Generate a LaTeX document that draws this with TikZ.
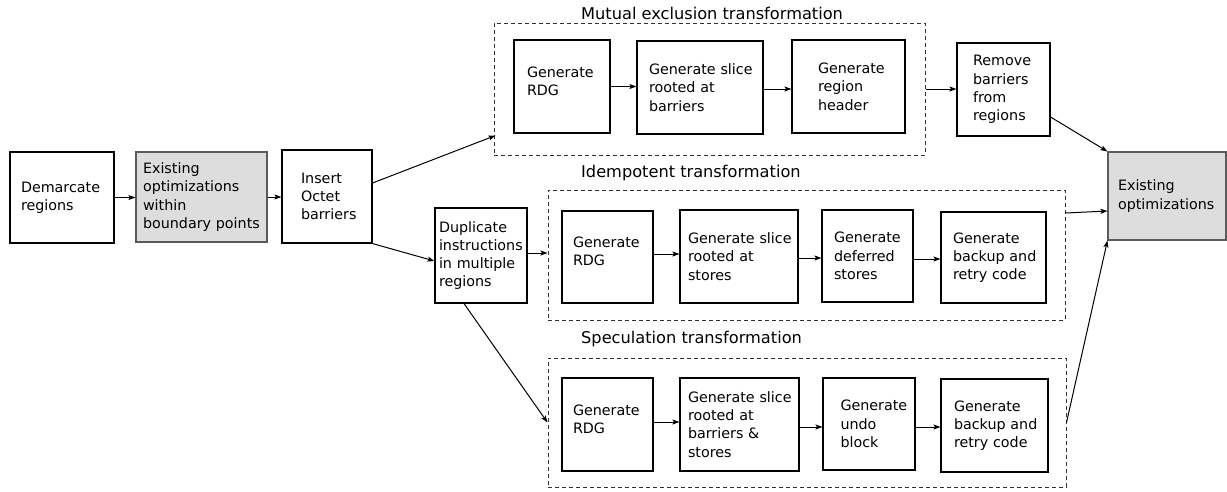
\documentclass[tikz,border=0pt]{standalone}
\usepackage{fontspec}
\setmainfont{DejaVu Sans}
\usetikzlibrary{arrows.meta}
\definecolor{boxgray}{RGB}{221,221,221}
\definecolor{edgegray}{RGB}{90,90,90}
\definecolor{framegray}{RGB}{50,50,50}
\begin{document}
\begin{tikzpicture}[x=1pt,y=-1pt,
  every node/.style={font=\fontsize{14.3pt}{18.3pt}\selectfont},
  % a process box: width, height, text width (text starts at a fixed left inset)
  stage/.style n args={3}{draw=black, line width=1.1pt, rectangle, align=left,
    minimum width=#1pt, minimum height=#2pt, text width=#3pt,
    inner xsep=0pt, inner ysep=0pt, anchor=center,
    execute at begin node={\hyphenpenalty=10000\exhyphenpenalty=10000\hbadness=10000\hfuzz=100pt}},
  shaded/.style={fill=boxgray, draw=edgegray},
  frame/.style={draw=framegray, line width=1pt, dash pattern=on 4pt off 3pt,
    rectangle, inner sep=0pt, anchor=center},
  ttl/.style={font=\fontsize{16.2pt}{19.5pt}\selectfont, inner sep=0pt, anchor=base west},
  conn/.style={draw=black, line width=1pt, -{Stealth[length=7pt,width=5pt,inset=1.5pt]}}
]
\useasboundingbox (0,0) rectangle (1227,491);
\fill[white] (0,0) rectangle (1227,491);

% front-end passes
\node[stage={104}{91}{82}] (dem) at (62,197.5) {Demarcate\\regions};
\node[stage={131}{90}{117}, shaded] (exo) at (201.5,197) {Existing\\optimizations\\within\\boundary~points};
\node[stage={90}{93}{52}] (ins) at (327,196.5) {Insert\\Octet\\barriers};
\node[stage={92}{95}{84}] (dup) at (481,255.5) {Duplicate\\instructions\\in~multiple\\regions};

% mutual exclusion transformation
\node[frame, minimum width=431pt, minimum height=132pt] (mex) at (709.5,89) {};
\node[ttl] (mext) at (581,19.5) {Mutual exclusion transformation};
\node[stage={96}{93}{70}] (mrdg) at (562,86.5) {Generate\\RDG\\[-7pt]\mbox{}};
\node[stage={126}{93}{102}] (mslc) at (700,87.5) {Generate~slice\\rooted~at\\barriers};
\node[stage={113}{93}{61}] (mhdr) at (848.5,86.5) {Generate\\region\\header};
\node[stage={93}{93}{61}] (rem) at (1003.5,89.5) {Remove\\barriers\\from\\regions};

% idempotent transformation
\node[frame, minimum width=517pt, minimum height=130pt] (idem) at (806.5,255) {};
\node[ttl] (idemt) at (581,177) {Idempotent transformation};
\node[stage={91}{92}{69}] (irdg) at (607.5,257) {Generate\\RDG\\[-7pt]\mbox{}};
\node[stage={118}{93}{102}] (islc) at (739,256.5) {Generate~slice\\rooted~at\\stores};
\node[stage={91}{92}{67}] (idef) at (867.5,256) {Generate\\deferred\\stores};
\node[stage={105}{91}{81}] (ibak) at (993.5,257.5) {Generate\\backup~and\\retry~code};

% speculation transformation
\node[frame, minimum width=518pt, minimum height=129pt] (spec) at (807,422.5) {};
\node[ttl] (spect) at (581,343) {Speculation transformation};
\node[stage={91}{93}{69}] (srdg) at (607.5,424.5) {Generate\\RDG\\[-7pt]\mbox{}};
\node[stage={119}{93}{103}] (sslc) at (739.5,424.5) {Generate~slice\\rooted~at\\barriers~\&\\stores};
\node[stage={92}{92}{57}] (sund) at (869,424) {Generate\\undo\\block};
\node[stage={107}{93}{81}] (sbak) at (994.5,425.5) {Generate\\backup~and\\retry~code};

% final pass
\node[stage={118}{88}{98}, shaded] (eopt) at (1167,196) {Existing\\optimizations};

% connectors
\draw[conn] (dem.east) -- (dem.east -| exo.west);
\draw[conn] (exo.east) -- (exo.east -| ins.west);
\draw[conn] ([yshift=13.5pt]ins.east) -- ([xshift=2pt,yshift=20pt]mex.south west);
\draw[conn] (ins.south east) -- ([yshift=-5.5pt]dup.west);
\draw[conn] ([yshift=2.5pt]dup.east) -- ([yshift=2.5pt]dup.east -| idem.west);
\draw[conn] ([xshift=-17pt]dup.south) -- (spec.west);

\draw[conn] (mrdg.east) -- (mrdg.east -| mslc.west);
\draw[conn] ([yshift=-1.5pt]mslc.east) -- ([yshift=-1.5pt]mslc.east -| mhdr.west);
\draw[conn] (mex.east) -- (mex.east -| rem.west);

\draw[conn] ([yshift=3pt]irdg.east) -- ([yshift=3pt]irdg.east -| islc.west);
\draw[conn] ([yshift=-1.5pt]islc.east) -- ([yshift=-1.5pt]islc.east -| idef.west);
\draw[conn] ([yshift=-3pt]idef.east) -- ([yshift=-3pt]idef.east -| ibak.west);

\draw[conn] ([yshift=2.5pt]srdg.east) -- ([yshift=2.5pt]srdg.east -| sslc.west);
\draw[conn] ([yshift=-2.5pt]sslc.east) -- ([yshift=-2.5pt]sslc.east -| sund.west);
\draw[conn] ([yshift=-3pt]sund.east) -- ([yshift=-3pt]sund.east -| sbak.west);

\draw[conn] ([yshift=-27.5pt]rem.east) -- (eopt.north west);
\draw[conn] ([yshift=42pt]idem.east) -- ([yshift=-15pt]eopt.west);
\draw[conn] (spec.east) -- (eopt.south west);
\end{tikzpicture}
\end{document}
